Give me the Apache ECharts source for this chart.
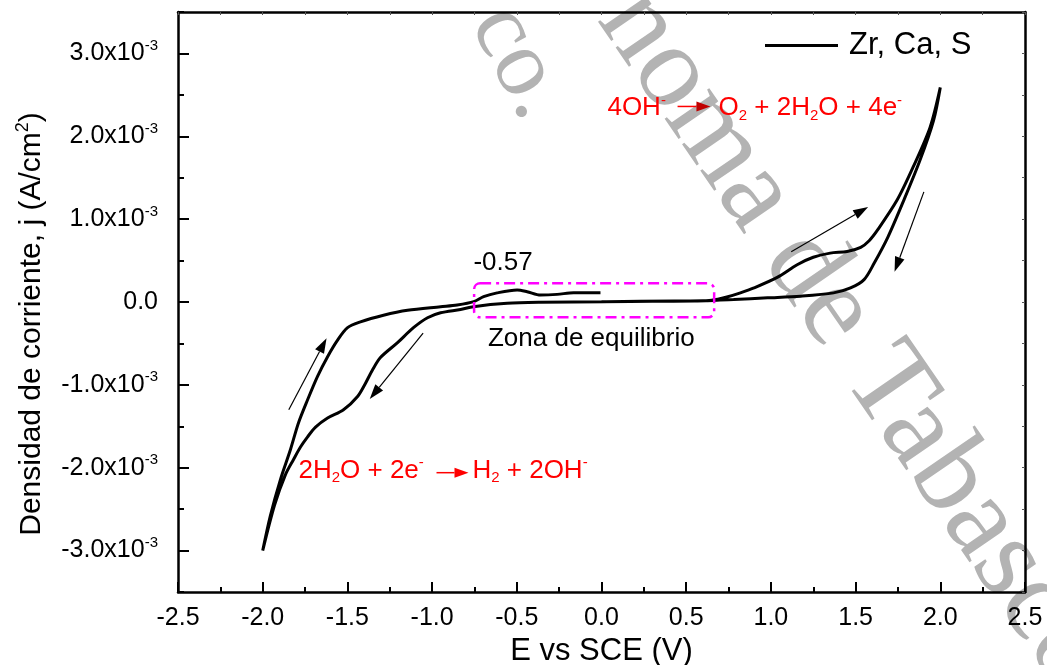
<!DOCTYPE html>
<html><head><meta charset="utf-8">
<script src="https://cdn.jsdelivr.net/npm/echarts@6/dist/echarts.min.js"></script>
<style>html,body{margin:0;padding:0;background:#fff}#c{width:1047px;height:665px}</style>
</head><body><div id="c"></div>
<script>
// ---------------- DATA ----------------
const seriesName = 'Zr, Ca, S';
// E (V vs SCE) and j (x10^-3 A/cm^2) along the scan path
const E_flatForward = [0.00, 0.30, 0.55];
const j_flatForward = [0.004, 0.008, 0.012];
const E_anodicForward = [0.65, 0.74, 0.82, 0.90, 1.04, 1.155, 1.25, 1.35, 1.45, 1.53, 1.58, 1.63, 1.745, 1.84, 1.94, 2.00];
const j_anodicForward = [0.02, 0.06, 0.11, 0.17, 0.30, 0.45, 0.54, 0.59, 0.61, 0.66, 0.74, 0.87, 1.23, 1.63, 2.11, 2.59];
const E_anodicReturn = [1.96, 1.88, 1.785, 1.69, 1.61, 1.55, 1.47, 1.37, 1.175, 0.98, 0.78, 0.60];
const j_anodicReturn = [2.19, 1.71, 1.23, 0.78, 0.47, 0.27, 0.17, 0.11, 0.07, 0.05, 0.03, 0.015];
const E_flatReturn = [0.43, 0.03, -0.36, -0.557, -0.756, -0.832, -0.95];
const j_flatReturn = [0.012, 0.004, -0.004, -0.016, -0.056, -0.09, -0.13];
const E_cathodicForward = [-1.027, -1.11, -1.204, -1.305, -1.352, -1.393, -1.44, -1.523, -1.617, -1.688, -1.736, -1.777, -1.818, -1.865, -1.93, -2.00];
const j_cathodicForward = [-0.19, -0.31, -0.49, -0.67, -0.82, -0.98, -1.14, -1.30, -1.40, -1.51, -1.63, -1.75, -1.90, -2.08, -2.45, -3.00];
const E_cathodicReturn = [-1.955, -1.895, -1.836, -1.789, -1.735, -1.677, -1.617, -1.558, -1.499, -1.423, -1.287, -1.145, -0.95, -0.852];
const j_cathodicReturn = [-2.58, -2.14, -1.78, -1.46, -1.18, -0.90, -0.66, -0.46, -0.31, -0.24, -0.16, -0.10, -0.057, -0.036];
const E_ocpPeak = [-0.754, -0.696, -0.616, -0.498, -0.439, -0.36, -0.262, -0.165, -0.006];
const j_ocpPeak = [0.004, 0.064, 0.11, 0.145, 0.124, 0.084, 0.092, 0.112, 0.112];

const yMajorValues = [-3, -2, -1, 0, 1, 2, 3];
const yMinorValues = [-3.5, -2.5, -1.5, -0.5, 0.5, 1.5, 2.5, 3.5];
const yExponent = '-3';
const xTitle = 'E vs SCE (V)';
const yTitleMain = 'Densidad de corriente, j (A/cm';
const yTitleSup = '2';
const peakLabel = '-0.57';
const zoneLabel = 'Zona de equilibrio';
const watermarkA = 'noma de Tabasco';
const watermarkB = 'co.';

// --------------- BUILD ---------------
function pairs(E, j) { return E.map((e, i) => [e, j[i]]); }
const pathData = [].concat(
  pairs(E_flatForward, j_flatForward),
  pairs(E_anodicForward, j_anodicForward),
  pairs(E_anodicReturn, j_anodicReturn),
  pairs(E_flatReturn, j_flatReturn),
  pairs(E_cathodicForward, j_cathodicForward),
  pairs(E_cathodicReturn, j_cathodicReturn),
  pairs(E_ocpPeak, j_ocpPeak)
);

const FONT = "'Liberation Sans', Arial, Helvetica, sans-serif";
const SERIF = "'Liberation Serif', 'Times New Roman', serif";
const chart = echarts.init(document.getElementById('c'));

function yLabel(v) {
  const r = Math.round(v);
  if (Math.abs(v - r) > 1e-6) return '';
  if (r === 0) return '{m|0.0}';
  return '{m|' + r.toFixed(1) + 'x10}{s|' + yExponent + '}';
}

const axisLineStyle = { color: '#000', width: 2.5 };

chart.setOption({
  animation: false,
  backgroundColor: '#fff',
  grid: { left: 178, right: 22, top: 12, bottom: 73, containLabel: false, outerBoundsMode: 'none' },
  legend: {
    data: [{ name: seriesName, icon: 'rect' }], left: 760, top: 25, itemWidth: 73, itemHeight: 3,
    selectedMode: false, itemStyle: { color: '#000' },
    textStyle: { fontSize: 31, color: '#000', fontFamily: FONT, padding: [0, 0, 0, 6] }
  },
  xAxis: [
    {
      type: 'value', position: 'bottom', min: -2.5, max: 2.5, interval: 0.5,
      axisLine: { onZero: false, lineStyle: axisLineStyle },
      axisTick: { inside: true, length: 10, lineStyle: { color: '#000', width: 2 } },
      minorTick: { show: true, splitNumber: 2, length: 5, lineStyle: { color: '#000', width: 2 } },
      splitLine: { show: false },
      axisLabel: { fontSize: 25, color: '#000', fontFamily: FONT, margin: 14, formatter: v => v.toFixed(1) },
      name: xTitle, nameLocation: 'middle', nameGap: 40,
      nameTextStyle: { fontSize: 31, color: '#000', fontFamily: FONT }
    },
    {
      type: 'value', position: 'top', min: -2.5, max: 2.5, interval: 0.25,
      axisLine: { onZero: false, lineStyle: axisLineStyle },
      axisTick: { inside: true, length: 3, lineStyle: { color: '#555', width: 1 } },
      axisLabel: { show: false }, splitLine: { show: false }
    }
  ],
  yAxis: [
    {
      type: 'value', position: 'left', min: -3.5, max: 3.5, interval: 0.5,
      axisLine: { onZero: false, lineStyle: axisLineStyle },
      axisTick: { inside: true, length: 11, customValues: yMajorValues, lineStyle: { color: '#000', width: 2 } },
      splitLine: { show: false },
      axisLabel: {
        customValues: yMajorValues, margin: 20, formatter: yLabel,
        rich: {
          m: { fontSize: 25, color: '#000', fontFamily: FONT, lineHeight: 30 },
          s: { fontSize: 15, color: '#000', fontFamily: FONT, lineHeight: 20, verticalAlign: 'top' }
        }
      }
    },
    {
      type: 'value', position: 'left', min: -3.5, max: 3.5, interval: 0.5,
      axisLine: { show: false, onZero: false },
      axisTick: { inside: true, length: 6, customValues: yMinorValues, lineStyle: { color: '#000', width: 2 } },
      axisLabel: { show: false }, splitLine: { show: false }
    },
    {
      type: 'value', position: 'right', min: -3.5, max: 3.5, interval: 0.5,
      axisLine: { onZero: false, lineStyle: axisLineStyle },
      axisTick: { inside: true, length: 3, lineStyle: { color: '#555', width: 1 } },
      axisLabel: { show: false }, splitLine: { show: false }
    }
  ],
  series: [{
    name: seriesName, type: 'line', data: pathData, xAxisIndex: 0, yAxisIndex: 0,
    showSymbol: false, symbol: 'none', smooth: 0.3, z: 5,
    itemStyle: { color: '#000' },
    lineStyle: { color: '#000', width: 3 }
  }]
});

// --------------- ANNOTATIONS ---------------
function P(e, j) { return chart.convertToPixel({ gridIndex: 0 }, [e, j]); }
function arrow(a, b, color, headColor, lw, hl, hw) {
  const dx = b[0] - a[0], dy = b[1] - a[1];
  const L = Math.hypot(dx, dy), ux = dx / L, uy = dy / L;
  const bx = b[0] - ux * hl, by = b[1] - uy * hl;
  return [
    { type: 'line', z: 20, shape: { x1: a[0], y1: a[1], x2: bx, y2: by }, style: { stroke: color, lineWidth: lw } },
    { type: 'polygon', z: 20, shape: { points: [b, [bx - uy * hw, by + ux * hw], [bx + uy * hw, by - ux * hw]] }, style: { fill: headColor } }
  ];
}
const redRich = {
  t: { fontSize: 26, fill: '#ff0000', fontFamily: FONT, lineHeight: 30 },
  sp: { fontSize: 15, fill: '#ff0000', fontFamily: FONT, lineHeight: 20, verticalAlign: 'top' },
  sb: { fontSize: 15, fill: '#ff0000', fontFamily: FONT, lineHeight: 12, verticalAlign: 'bottom' }
};
function redText(pos, text) {
  return { type: 'text', z: 20, x: pos[0], y: pos[1], style: { text: text, rich: redRich, align: 'left', verticalAlign: 'middle' } };
}

const g = [];
// watermark (pixel placement, behind data)
const wmRot = -55.5 * Math.PI / 180;
g.push({ type: 'text', z: 0, x: 622, y: 2, rotation: wmRot,
  style: { text: watermarkA, fontSize: 118, fontFamily: SERIF, fill: '#b3b3b3', align: 'left', verticalAlign: 'middle' } });
g.push({ type: 'text', z: 0, x: 492, y: 12, rotation: -62 * Math.PI / 180,
  style: { text: watermarkB, fontSize: 95, fontFamily: SERIF, fill: '#b3b3b3', align: 'left', verticalAlign: 'middle' } });

// dash-dot box of the equilibrium zone
const b1 = P(-0.752, 0.225), b2 = P(0.665, -0.185);
g.push({ type: 'rect', z: 20, shape: { x: b1[0], y: b1[1], width: b2[0] - b1[0], height: b2[1] - b1[1], r: 6 },
  style: { fill: 'none', stroke: '#ff00ff', lineWidth: 2.5, lineDash: [11, 5, 3, 5] } });
const pk = P(-0.756, 0.47);
g.push({ type: 'text', z: 20, x: pk[0], y: pk[1], style: { text: peakLabel, fontSize: 26, fontFamily: FONT, fill: '#000', align: 'left', verticalAlign: 'middle' } });
const zl = P(-0.06, -0.446);
g.push({ type: 'text', z: 20, x: zl[0], y: zl[1], style: { text: zoneLabel, fontSize: 26, fontFamily: FONT, fill: '#000', align: 'center', verticalAlign: 'middle' } });

// black scan-direction arrows
g.push(...arrow(P(-1.846, -1.30), P(-1.623, -0.437), '#000', '#000', 1.2, 15, 5));
g.push(...arrow(P(-1.053, -0.377), P(-1.368, -1.172), '#000', '#000', 1.2, 15, 5));
g.push(...arrow(P(1.120, 0.606), P(1.574, 1.148), '#000', '#000', 1.2, 15, 5));
g.push(...arrow(P(1.903, 1.329), P(1.730, 0.365), '#000', '#000', 1.2, 15, 5));

// reaction equations
g.push(redText(P(0.035, 2.34), '{t|4OH}{sp|-}'));
g.push(...arrow(P(0.449, 2.36), P(0.643, 2.36), '#ff0000', '#c00000', 1.5, 14, 5));
g.push(redText(P(0.691, 2.34), '{t|O}{sb|2}{t| + 2H}{sb|2}{t|O + 4e}{sp|-}'));
g.push(redText(P(-1.789, -2.036), '{t|2H}{sb|2}{t|O + 2e}{sp|-}'));
g.push(...arrow(P(-0.974, -2.06), P(-0.785, -2.06), '#ff0000', '#ff0000', 1.5, 14, 5));
g.push(redText(P(-0.762, -2.036), '{t|H}{sb|2}{t| + 2OH}{sp|-}'));

// y axis title
g.push({ type: 'text', z: 20, x: 32, y: 324, rotation: Math.PI / 2,
  style: { text: '{a|' + yTitleMain + '}{s|' + yTitleSup + '}{a|)}', rich: {
    a: { fontSize: 30, fill: '#000', fontFamily: FONT, lineHeight: 36 },
    s: { fontSize: 18, fill: '#000', fontFamily: FONT, lineHeight: 22, verticalAlign: 'top' } },
    fontSize: 30, fontFamily: FONT, fill: '#000', align: 'center', verticalAlign: 'middle' } });

chart.setOption({ graphic: g });
</script>
</body></html>
